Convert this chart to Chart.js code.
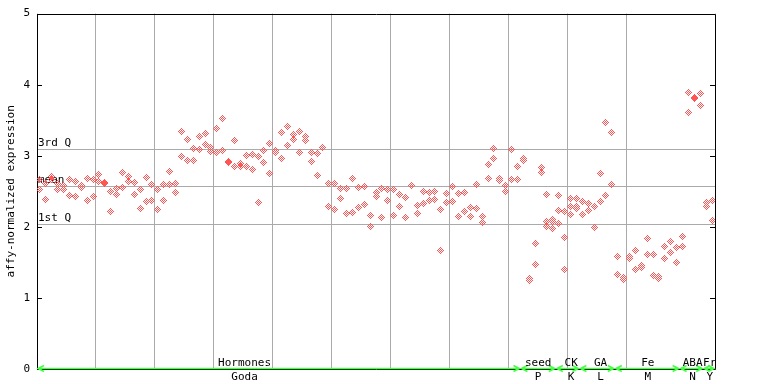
<!DOCTYPE html>
<html><head><meta charset="utf-8">
<script src="https://cdn.jsdelivr.net/npm/chart.js@4/dist/chart.umd.min.js"></script>
<style>html,body{margin:0;padding:0;background:#fff;}canvas{display:block;}</style>
</head><body>
<canvas id="c" width="768" height="384"></canvas>
<script>
// replicate values per sample (sample index = position in array)
const rep1 = [2.66,2.61,2.71,2.61,2.58,2.66,2.64,2.58,2.68,2.66,
  2.74,2.62,2.50,2.54,2.77,2.71,2.63,2.53,2.69,2.60,
  2.53,2.60,2.78,2.61,3.34,3.23,3.10,3.27,3.31,3.12,
  3.38,3.53,2.92,3.22,2.89,3.00,3.02,2.99,3.07,3.17,
  3.07,3.33,3.41,3.30,3.34,3.27,3.05,3.03,3.12,2.61,
  2.61,2.54,2.54,2.68,2.55,2.57,2.16,2.48,2.54,2.53,
  2.53,2.46,2.41,2.58,2.30,2.50,2.48,2.50,2.25,2.47,
  2.57,2.47,2.48,2.27,2.60,2.15,2.88,3.10,2.68,2.58,
  3.09,2.85,2.96,1.27,1.77,2.84,2.46,2.10,2.44,2.22,
  2.40,2.40,2.36,2.33,2.29,2.75,3.47,3.33,1.58,1.29,
  1.58,1.67,1.46,1.84,1.61,1.30,1.72,1.80,1.71,1.87,
  3.89,3.82,3.88,2.34,2.37];
const rep2 = [2.53,2.39,2.66,2.53,2.53,2.44,2.42,2.55,2.37,2.42,
  2.64,2.61,2.21,2.46,2.55,2.64,2.46,2.26,2.36,2.37,
  2.25,2.37,2.60,2.49,2.99,2.94,2.94,3.09,3.16,3.06,
  3.05,3.08,2.91,2.85,2.85,2.85,2.81,2.34,2.91,2.75,
  3.05,2.96,3.14,3.23,3.05,3.22,2.92,2.72,3.11,2.29,
  2.25,2.40,2.19,2.20,2.27,2.32,2.01,2.43,2.13,2.37,
  2.16,2.29,2.13,null,2.19,2.33,2.37,2.39,1.67,2.34,
  2.36,2.15,2.22,2.15,2.26,2.06,2.68,2.96,2.65,2.50,
  2.67,2.67,2.93,1.24,1.47,2.77,2.08,2.07,2.23,1.85,
  2.29,2.29,2.17,2.23,1.99,2.36,2.44,2.60,1.33,1.26,
  1.56,1.40,1.43,1.61,1.32,1.28,1.56,1.64,1.50,1.72,
  3.61,3.80,3.71,2.29,2.09];
const rep3 = [null,null,null,null,null,null,null,null,null,null,
  null,null,null,null,null,null,null,null,null,null,
  null,null,null,null,null,null,null,null,null,null,
  null,null,null,null,null,null,null,null,null,null,
  null,null,null,null,null,null,null,null,null,null,
  null,null,null,null,null,null,null,null,null,null,
  null,null,null,null,null,null,null,null,null,null,
  null,null,null,null,null,null,null,null,null,null,
  null,null,null,null,null,null,2.00,1.98,2.05,1.40,
  2.17,2.26,null,null,null,null,null,null,null,null,
  null,null,null,null,null,null,null,null,null,null,
  null,null,null,null,null];
const yTicks = [0,1,2,3,4,5];
const refValues = [3.10, 2.58, 2.04];
const refLabels = ['3rd Q','mean','1st Q'];
const groupNames = ['Hormones','seed','CK','GA','Fe','ABA','Fr'];
const groupSubs  = ['Goda','P','K','L','M','N','Y'];
const groupStart = [0,82,88,92,98,109,113];
const groupEnd   = [82,88,92,98,109,113,115];
const groupCenter = [35.2,85,90.6,95.6,103.6,111.2,114.1];
const nSamples = rep1.length;

const FONT = '"DejaVu Sans Mono", "Liberation Mono", monospace';
const RED = '#ff5555';

// pixel diamond marker
const mk = document.createElement('canvas');
mk.width = 7; mk.height = 7;
(function(){
  const g = mk.getContext('2d');
  g.fillStyle = RED;
  const rows = ['...X...','..X.X..','.X.X.X.','X.X.X.X','.X.X.X.','..X.X..','...X...'];
  rows.forEach((r,yy)=>{ for(let xx=0;xx<7;xx++) if(r[xx]==='X') g.fillRect(xx,yy,1,1); });
})();

function toPts(arr){
  const out=[];
  arr.forEach((v,i)=>{ if(v!==null) out.push({x:i+0.5,y:v}); });
  return out;
}

const deco = {
  id:'deco',
  beforeDatasetsDraw(chart){
    const {ctx, chartArea:a, scales:{x,y}} = chart;
    ctx.save();
    ctx.lineWidth = 1;
    ctx.strokeStyle = '#aaaaaa';
    refValues.forEach(v=>{
      const py = Math.round(y.getPixelForValue(v))+0.5;
      ctx.beginPath(); ctx.moveTo(a.left,py); ctx.lineTo(a.right,py); ctx.stroke();
    });
    ctx.fillStyle = '#000';
    ctx.font = '11px '+FONT;
    ctx.textAlign = 'left'; ctx.textBaseline = 'alphabetic';
    refValues.forEach((v,k)=>{
      const py = Math.round(y.getPixelForValue(v));
      ctx.fillText(refLabels[k], a.left+1, py-3);
    });
    ctx.strokeStyle = '#000';
    ctx.beginPath();
    ctx.rect(Math.round(a.left)+0.5, Math.round(a.top)+0.5, Math.round(a.right-a.left), Math.round(a.bottom-a.top));
    ctx.stroke();
    yTicks.forEach(v=>{
      const py = Math.round(y.getPixelForValue(v))+0.5;
      ctx.beginPath();
      ctx.moveTo(a.left,py); ctx.lineTo(a.left+5,py);
      ctx.moveTo(a.right-5,py); ctx.lineTo(a.right,py);
      ctx.stroke();
    });
    ctx.restore();
    ctx.imageSmoothingEnabled = false;
  },
  afterDatasetsDraw(chart){
    const {ctx, chartArea:a, scales:{x}} = chart;
    ctx.save();
    const gy = Math.round(a.bottom)-0.5;
    ctx.strokeStyle = '#44ff44';
    ctx.lineWidth = 1.5;
    groupNames.forEach((nm,k)=>{
      const x0 = x.getPixelForValue(groupStart[k])+1;
      const x1 = x.getPixelForValue(groupEnd[k])-1;
      ctx.beginPath();
      ctx.moveTo(x0,gy); ctx.lineTo(x1,gy);
      ctx.moveTo(x0+6,gy-3); ctx.lineTo(x0,gy); ctx.lineTo(x0+6,gy+3);
      ctx.moveTo(x1-6,gy-3); ctx.lineTo(x1,gy); ctx.lineTo(x1-6,gy+3);
      ctx.stroke();
    });
    ctx.fillStyle = '#000';
    ctx.font = '11px '+FONT;
    ctx.textAlign = 'center'; ctx.textBaseline = 'alphabetic';
    groupNames.forEach((nm,k)=>{
      const cx = x.getPixelForValue(groupCenter[k]);
      ctx.fillText(nm, cx, a.bottom-3);
      ctx.fillText(groupSubs[k], cx, a.bottom+11);
    });
    ctx.restore();
  }
};

new Chart(document.getElementById('c'), {
  type:'scatter',
  data:{datasets:[
    {data:toPts(rep1), pointStyle:mk, pointRadius:3.5},
    {data:toPts(rep2), pointStyle:mk, pointRadius:3.5},
    {data:toPts(rep3), pointStyle:mk, pointRadius:3.5}
  ]},
  options:{
    responsive:false, animation:false, devicePixelRatio:1,
    layout:{padding:{top:13,right:53,left:0,bottom:0}},
    plugins:{legend:{display:false}, tooltip:{enabled:false}},
    scales:{
      x:{type:'linear', min:0, max:nSamples,
        afterFit(s){ s.height = 15; },
        ticks:{display:false, stepSize:10},
        grid:{color:'#aaaaaa', lineWidth:1, drawTicks:false},
        border:{display:false}},
      y:{min:0, max:5,
        afterFit(s){ s.width = 37; },
        afterBuildTicks(s){ s.ticks = yTicks.map(v=>({value:v})); },
        ticks:{padding:7, color:'#000', font:{family:FONT, size:11}},
        grid:{display:false, drawTicks:false},
        border:{display:false},
        title:{display:true, text:'affy-normalized expression', color:'#000',
          font:{family:FONT, size:11}, padding:{top:5,bottom:0}}}
    }
  },
  plugins:[deco]
});
</script>
</body></html>
